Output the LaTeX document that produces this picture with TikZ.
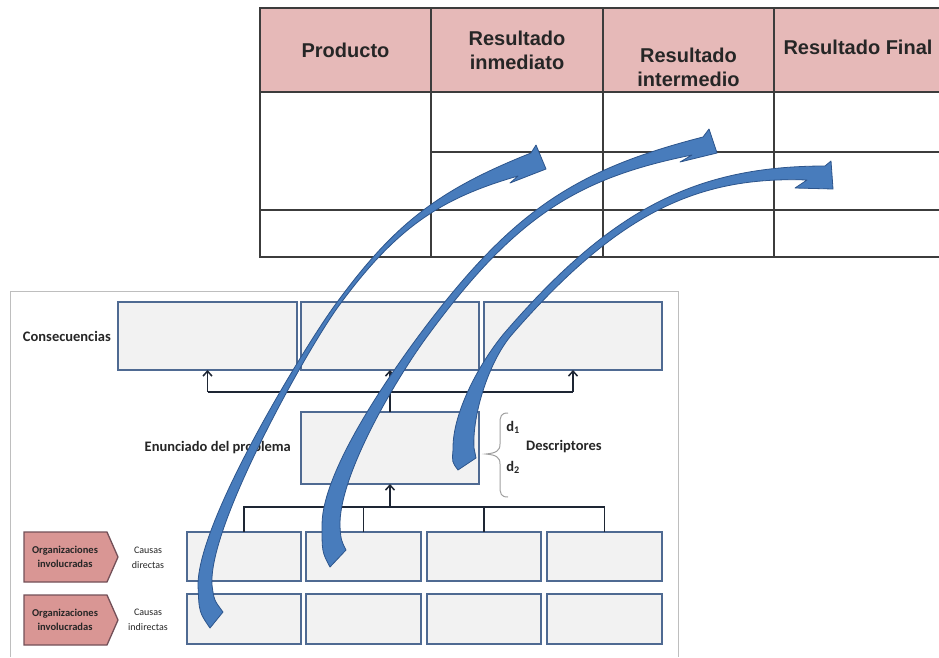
\documentclass[tikz,border=0pt]{standalone}
\usepackage{fontspec}
\setmainfont{Carlito}
\newfontfamily\hdrfont{Liberation Sans}
\usetikzlibrary{arrows.meta}
\definecolor{hdrpink}{RGB}{230,185,184}
\definecolor{tline}{RGB}{60,60,60}
\definecolor{boxfill}{RGB}{242,242,242}
\definecolor{boxedge}{RGB}{79,106,146}
\definecolor{conncol}{RGB}{30,38,52}
\definecolor{orgfill}{RGB}{217,150,148}
\definecolor{orgedge}{RGB}{115,80,88}
\definecolor{txt}{RGB}{38,38,38}
\definecolor{arrfill}{RGB}{72,124,188}
\definecolor{arredge}{RGB}{45,85,140}
\definecolor{framecol}{RGB}{190,190,190}
\definecolor{bracecol}{RGB}{160,160,160}
\begin{document}
\begin{tikzpicture}[x=1pt,y=-1pt,
  tbl/.style={draw=tline, line width=1.4pt},
  hdrtext/.style={font=\hdrfont\bfseries\fontsize{20}{24}\selectfont, text=txt, align=center, inner sep=0},
  box/.style={draw=boxedge, fill=boxfill, line width=1.5pt, inner sep=0, outer sep=0},
  conn/.style={draw=conncol, line width=1.5pt},
  upconn/.style={conn, -{Straight Barb[length=5pt,width=9pt,line width=1.5pt]}},
  lbl/.style={font=\bfseries\fontsize{14.5}{17}\selectfont, text=txt, inner sep=0},
  orgshape/.style={fill=orgfill, draw=orgedge, line width=1.3pt},
  orgtext/.style={font=\bfseries\fontsize{10.5}{14}\selectfont, text=txt, align=center, inner sep=0},
  causetext/.style={font=\fontsize{10}{15}\selectfont, text=txt, align=center, inner sep=0},
  bigarrow/.style={fill=arrfill, draw=arredge, line width=0.8pt, line join=round}
]
\useasboundingbox (0,0) rectangle (939,657);
\fill[white] (0,0) rectangle (939,657);

% ---------- table ----------
\fill[hdrpink] (260,8) rectangle (939,92);
\draw[tbl] (939,8) -- (260,8) -- (260,257) -- (939,257);
\draw[tbl] (260,92) -- (939,92);
\draw[tbl] (431,152) -- (939,152);
\draw[tbl] (260,210) -- (939,210);
\draw[tbl] (431,8) -- (431,257);
\draw[tbl] (603,8) -- (603,257);
\draw[tbl] (774,8) -- (774,257);
\node[hdrtext] (h1) at (345.5,50) {Producto};
\node[hdrtext] (h2) at (517,50) {Resultado\\inmediato};
\node[hdrtext] (h3) at (688.5,67) {Resultado\\intermedio};
\node[hdrtext] (h4) at (858,47) {Resultado Final};

% ---------- frame ----------
\draw[framecol, line width=1pt] (10,657) -- (10,291) -- (678,291) -- (678,657);

% ---------- boxes ----------
\node[box, minimum width=179pt, minimum height=68pt] (cons1) at (207.5,336) {};
\node[box, minimum width=178pt, minimum height=68pt] (cons2) at (390,336) {};
\node[box, minimum width=178pt, minimum height=68pt] (cons3) at (573,336) {};
\node[box, minimum width=178pt, minimum height=72pt] (prob) at (390,448) {};

\node[box, minimum width=114pt, minimum height=49pt] (c11) at (244,556.5) {};
\node[box, minimum width=115pt, minimum height=49pt] (c12) at (363.5,556.5) {};
\node[box, minimum width=114pt, minimum height=49pt] (c13) at (484,556.5) {};
\node[box, minimum width=115pt, minimum height=49pt] (c14) at (604.5,556.5) {};
\node[box, minimum width=114pt, minimum height=50pt] (c21) at (244,619) {};
\node[box, minimum width=115pt, minimum height=50pt] (c22) at (363.5,619) {};
\node[box, minimum width=114pt, minimum height=50pt] (c23) at (484,619) {};
\node[box, minimum width=115pt, minimum height=50pt] (c24) at (604.5,619) {};

% ---------- connectors ----------
\coordinate (tl) at (207.5,392);
\coordinate (tm) at (390,392);
\coordinate (tr) at (573,392);
\draw[conn] (prob.north) -- (tm);
\draw[conn] (tl) -- (tr);
\draw[upconn] (tl) -- (cons1.south);
\draw[upconn] (tm) -- (cons2.south);
\draw[upconn] (tr) -- (cons3.south);

\coordinate (bm) at (390,507);
\draw[upconn] (bm) -- (prob.south);
\draw[conn] (c11.north) -- (c11.north |- bm) -- (c14.north |- bm) -- (c14.north);
\draw[conn] (c12.north) -- (c12.north |- bm);
\draw[conn] (c13.north) -- (c13.north |- bm);

% ---------- labels ----------
\node[lbl, anchor=east] (conslbl) at (111,336) {Consecuencias};
\node[lbl, anchor=east] (problbl) at (291,448) {Enunciado del problema};
\node[lbl, anchor=west] (desc) at (526,447) {Descriptores};
\node[lbl] (d1) at (513,427) {d\textsubscript{1}};
\node[lbl] (d2) at (513,467) {d\textsubscript{2}};
\draw[bracecol, line width=1pt] (508,413) .. controls (501,413) and (500,416) .. (500,424) -- (500,444)
  .. controls (500,451) and (496,453) .. (486,454)
  .. controls (496,455) and (500,457) .. (500,464) -- (500,486)
  .. controls (500,494) and (501,497) .. (508,497);

\draw[orgshape] (24,532) -- (107,532) -- (118,557) -- (107,582) -- (24,582) -- cycle;
\draw[orgshape] (24,595) -- (107,595) -- (118,620) -- (107,645) -- (24,645) -- cycle;
\node[orgtext] (org1) at (65,557) {Organizaciones\\involucradas};
\node[orgtext] (org2) at (65,620) {Organizaciones\\involucradas};
\node[causetext] (cd) at (148,558) {Causas\\directas};
\node[causetext] (ci) at (148,620) {Causas\\indirectas};

% ---------- curved arrows ----------
\filldraw[bigarrow] (210,628) .. controls (199,612) .. (198,585)
  .. controls (198,520) and (305.5,345.5) .. (335,305)
  .. controls (394,224) and (438,190) .. (531,153)
  -- (536,145) -- (546,169) -- (510,183) -- (518,176)
  .. controls (442,198) and (397,226) .. (338,307)
  .. controls (308.5,347.5) and (208,525) .. (212,585)
  .. controls (214,600) .. (223,612) -- cycle;
\filldraw[bigarrow] (330,567) .. controls (322,552) .. (322,525)
  .. controls (322,470) and (393,370) .. (423,330)
  .. controls (512,212) and (574,170) .. (703,137)
  -- (709,129) -- (717,153) -- (680,162) -- (692,155)
  .. controls (578,178) and (516,216) .. (429,334)
  .. controls (399,374) and (338,475) .. (340,527)
  .. controls (341,540) .. (346,550) -- cycle;
\filldraw[bigarrow] (458,470) .. controls (452,462) .. (453,450)
  .. controls (452,410) and (484,356) .. (507,330)
  .. controls (612,209) and (696,166) .. (825,166)
  -- (831,161) -- (833,189) -- (795,188) -- (807,180)
  .. controls (696,176) and (617,214) .. (512,334.5)
  .. controls (489,361) and (472,415) .. (474,448)
  .. controls (475,453) .. (476,458) -- cycle;
\end{tikzpicture}
\end{document}
